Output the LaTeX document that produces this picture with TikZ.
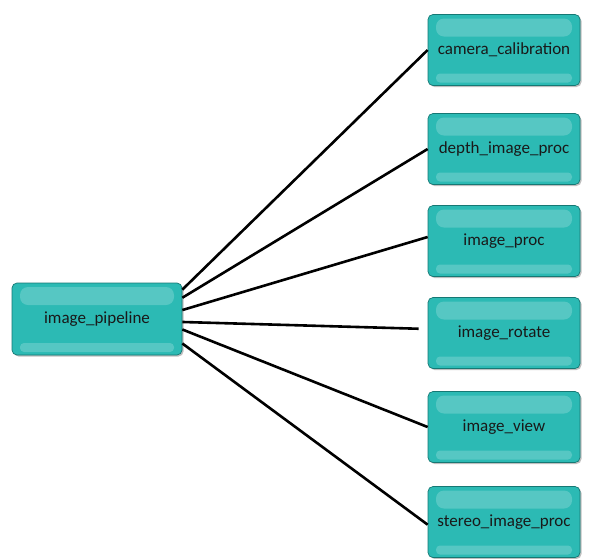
\documentclass[tikz,border=0pt]{standalone}
\usepackage{fontspec}
\setmainfont{Carlito}
\usetikzlibrary{shapes,arrows,positioning,calc,shadows}

\definecolor{gemteal}{RGB}{44,186,180}
\definecolor{gemedge}{RGB}{22,120,116}

\tikzset{
    pkg/.style={rectangle, rounded corners=5pt, fill=gemteal, draw=gemedge, line width=0.7pt,
        minimum width=152pt, minimum height=71pt, text=black!90,
        font=\fontsize{17}{20}\selectfont,
        drop shadow={shadow xshift=1.5pt, shadow yshift=-1.5pt, opacity=0.5},
        path picture={
            % glossy top and bottom bands
            \fill[white, opacity=0.2, rounded corners=8pt]
                ([shift={(8pt,-4pt)}]path picture bounding box.north west)
                rectangle ([shift={(-8pt,-22pt)}]path picture bounding box.north east);
            \fill[white, opacity=0.2, rounded corners=4pt]
                ([shift={(8pt,3pt)}]path picture bounding box.south west)
                rectangle ([shift={(-8pt,12pt)}]path picture bounding box.south east);
        }},
    link/.style={line width=2.6pt, black}
}

\begin{document}
\begin{tikzpicture}[x=1pt, y=-1pt]
    \useasboundingbox (0,0) rectangle (608,558);

    % Root package
    \node[pkg, minimum width=170pt, minimum height=72pt] (pipe) at (97,319) {image\_pipeline};

    % Sub packages
    \node[pkg] (calib)  at (504,50)  {camera\_calibration};
    \node[pkg] (depth)  at (504,149) {depth\_image\_proc};
    \node[pkg] (proc)   at (504,241) {image\_proc};
    \node[pkg] (rotate) at (504,333) {image\_rotate};
    \node[pkg] (view)   at (504,427) {image\_view};
    \node[pkg] (stereo) at (504,522) {stereo\_image\_proc};

    % Connections
    \foreach \a/\b/\c/\s in {19/calib/180/0, 14/depth/180/0, 6/proc/177/0, 358/rotate/177/9, 353/view/180/0, 344/stereo/182/0} {
        \draw[link, shorten >=\s pt] (pipe.\a) -- (\b.\c);
    }
\end{tikzpicture}
\end{document}
